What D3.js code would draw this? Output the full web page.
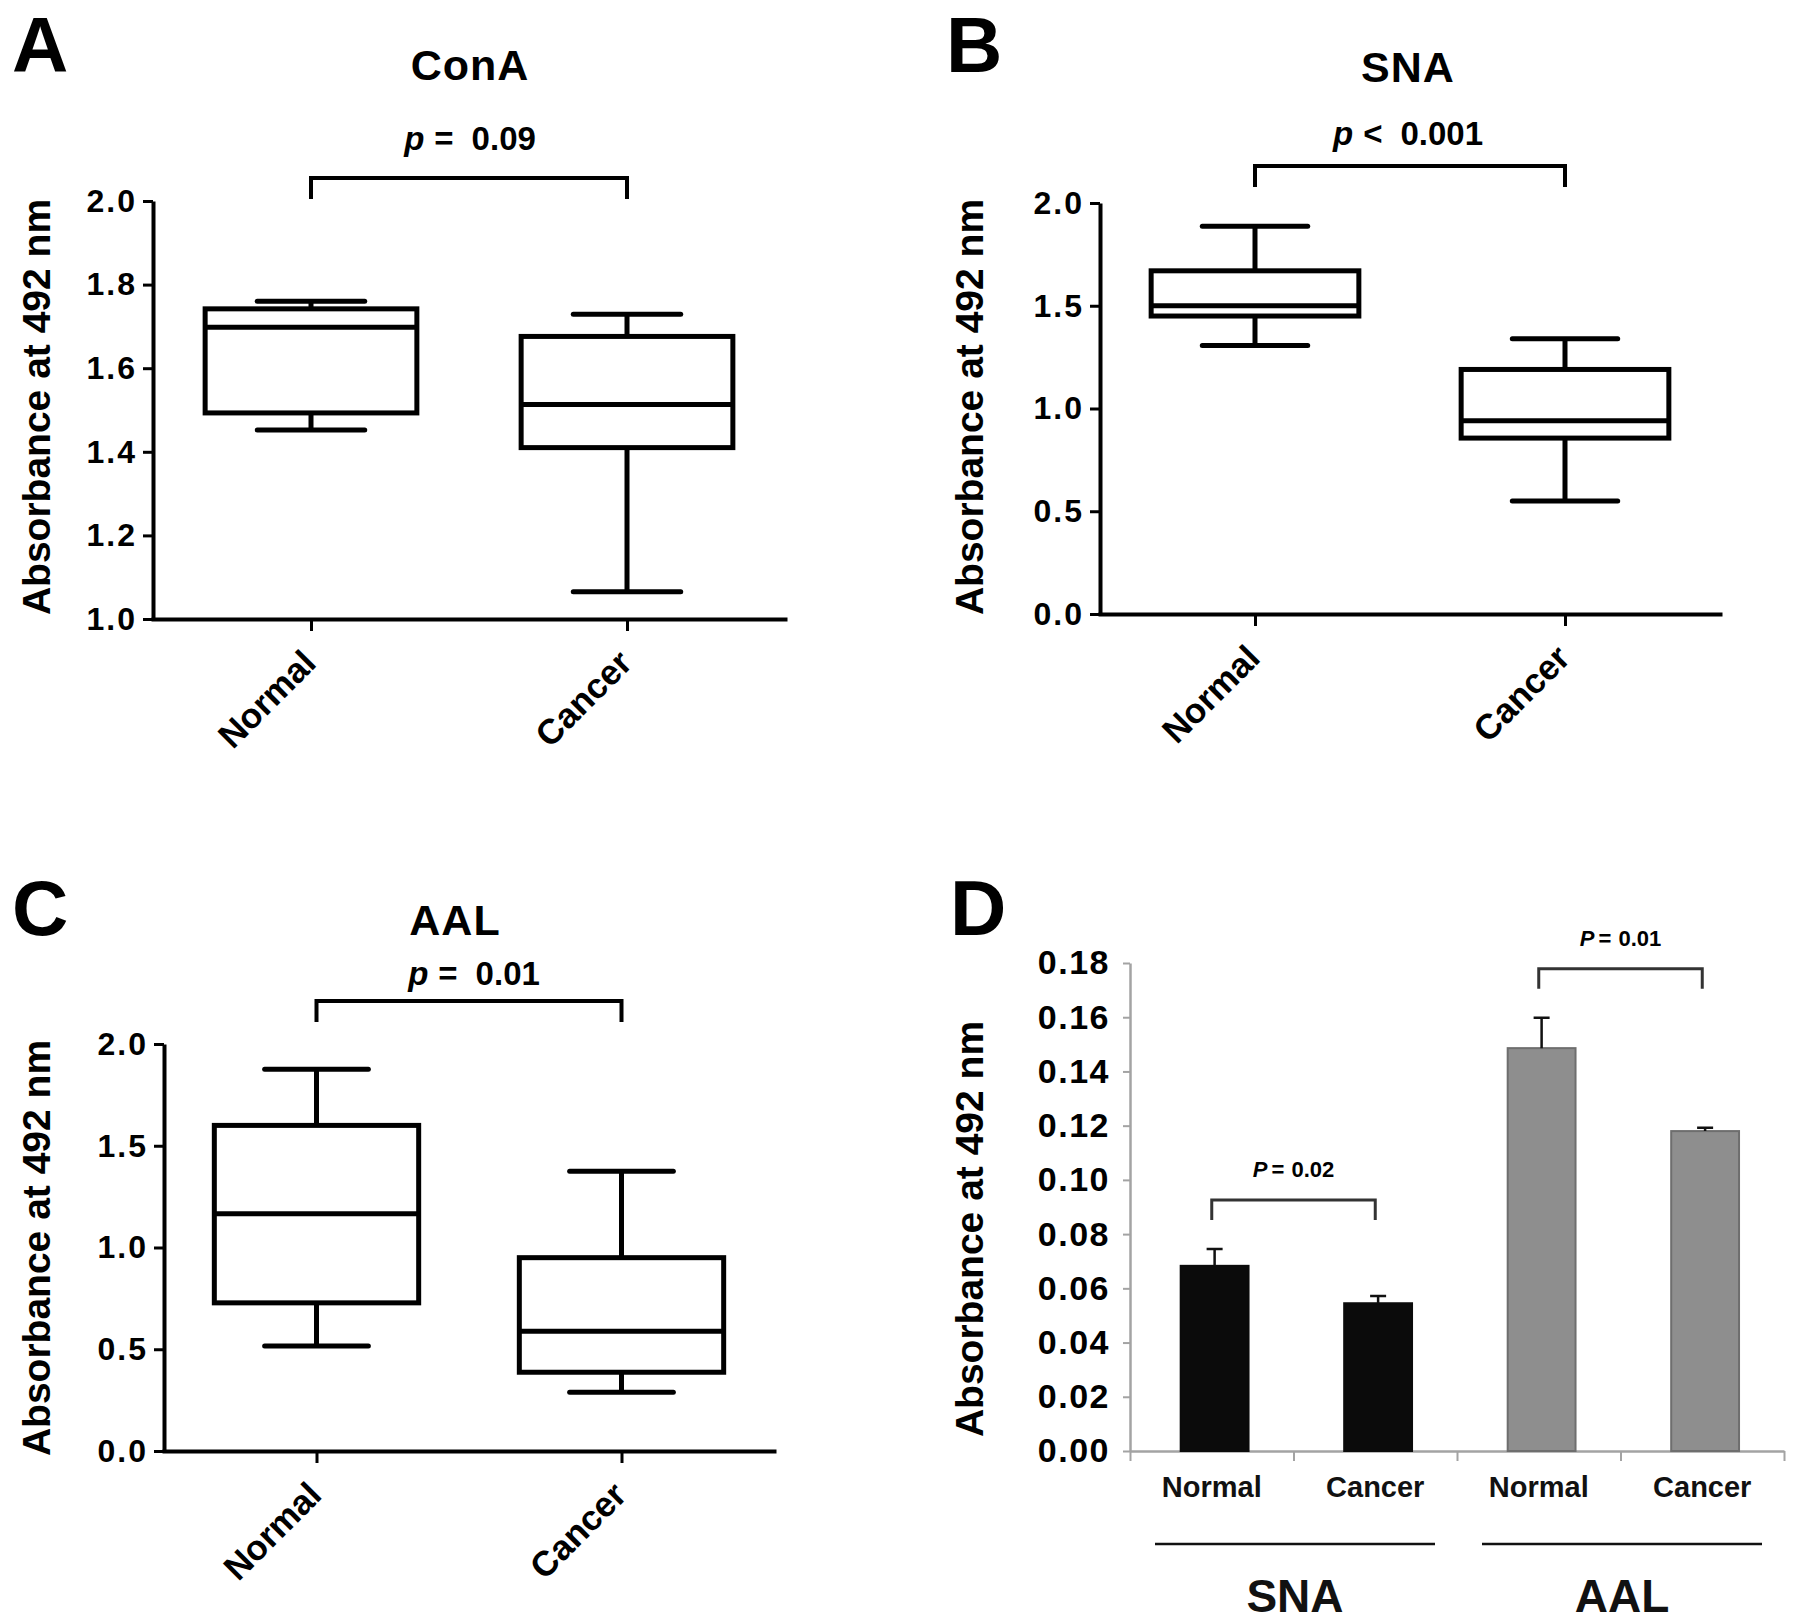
<!DOCTYPE html>
<html>
<head>
<meta charset="utf-8">
<script src="https://cdn.jsdelivr.net/npm/d3@7"></script>
<style>
body { margin: 0; background: #fff; }
text { font-family: "Liberation Sans", Arial, sans-serif; }
</style>
</head>
<body>
<div id="chart-area"></div>
<script>
// ---- data ----
var groups = ["Normal", "Cancer"];
// each row: min, q1, median, q3, max
var conaStats = [[1.452, 1.493, 1.698, 1.742, 1.760], [1.065, 1.410, 1.513, 1.676, 1.729]];
var snaStats  = [[1.307, 1.450, 1.500, 1.670, 1.887], [0.550, 0.856, 0.940, 1.190, 1.340]];
var aalStats  = [[0.516, 0.728, 1.166, 1.600, 1.876], [0.289, 0.387, 0.588, 0.950, 1.375]];
var conaTicks = [1.0, 1.2, 1.4, 1.6, 1.8, 2.0];
var lectinTicks = [0.0, 0.5, 1.0, 1.5, 2.0];

var barLectins = ["SNA", "AAL"];
var barLabels = ["Normal", "Cancer", "Normal", "Cancer"];
var barMeans  = [0.0683, 0.0545, 0.1486, 0.1180];
var barErrors = [0.0062, 0.0027, 0.0112, 0.0012];
var barTicks  = [0.00, 0.02, 0.04, 0.06, 0.08, 0.10, 0.12, 0.14, 0.16, 0.18];
var barPValues = ["0.02", "0.01"];

var width = 1795;
var height = 1624;

var svg = d3.select("#chart-area")
    .append("svg")
    .attr("width", width)
    .attr("height", height)
    .style("display", "block");

svg.append("rect").attr("width", width).attr("height", height).attr("fill", "#fff");

function panelLetter(letter, x, y) {
    svg.append("text")
        .attr("x", x).attr("y", y)
        .attr("font-size", "78px").attr("font-weight", "bold")
        .text(letter);
}

function yLabel(x, y) {
    svg.append("text")
        .attr("transform", "translate(" + x + "," + y + ") rotate(-90)")
        .attr("text-anchor", "middle")
        .attr("dominant-baseline", "central")
        .attr("font-size", "39px").attr("font-weight", "bold")
        .text("Absorbance at 492 nm");
}

function pLabel(letterP, sign, value, x, y, size, gap) {
    var t = svg.append("text")
        .attr("x", x).attr("y", y)
        .attr("text-anchor", "middle")
        .attr("font-size", size + "px").attr("font-weight", "bold");
    t.append("tspan").attr("font-style", "italic").text(letterP);
    t.append("tspan").attr("dx", gap).text(sign);
    t.append("tspan").attr("dx", gap * 1.8).text(value);
}

// ---- box and whisker panels (A, B, C) ----
var boxPanels = [
    {letter: "A", lx: 12, ly: 72, title: "ConA", tx: 470, ty: 80, sign: "=", pv: "0.09", px: 470, py: 150,
     stats: conaStats, ticks: conaTicks, domain: [1, 2], x0: 153, x1: 785, yTop: 201, yBottom: 619,
     bracketY: 178, ylx: 36, yly: 407},
    {letter: "B", lx: 946, ly: 72, title: "SNA", tx: 1408, ty: 82, sign: "<", pv: "0.001", px: 1408, py: 145,
     stats: snaStats, ticks: lectinTicks, domain: [0, 2], x0: 1100, x1: 1720, yTop: 203, yBottom: 614,
     bracketY: 166, ylx: 969, yly: 407},
    {letter: "C", lx: 12, ly: 935, title: "AAL", tx: 455, ty: 935, sign: "=", pv: "0.01", px: 474, py: 985,
     stats: aalStats, ticks: lectinTicks, domain: [0, 2], x0: 164, x1: 774, yTop: 1044, yBottom: 1451,
     bracketY: 1001, ylx: 36, yly: 1248}
];

boxPanels.forEach(function(o) {
    var yScale = d3.scaleLinear().domain(o.domain).range([o.yBottom, o.yTop]);
    var xScale = d3.scalePoint().domain(groups).range([o.x0, o.x1]).padding(0.5);
    var step = xScale.step();
    var boxHalf = step * 0.335;
    var capHalf = step * 0.17;

    panelLetter(o.letter, o.lx, o.ly);
    yLabel(o.ylx, o.yly);

    svg.append("text")
        .attr("x", o.tx).attr("y", o.ty)
        .attr("text-anchor", "middle")
        .attr("font-family", "'Noto Sans', 'Open Sans', sans-serif")
        .attr("font-size", "43px").attr("font-weight", "bold")
        .attr("letter-spacing", "1px")
        .text(o.title);

    pLabel("p", o.sign, o.pv, o.px, o.py, 33, 10);

    var g = svg.append("g");

    var yAxis = g.append("g")
        .attr("transform", "translate(" + o.x0 + ",0)")
        .call(d3.axisLeft(yScale).tickValues(o.ticks).tickFormat(d3.format(".1f"))
            .tickSize(10).tickSizeOuter(0).tickPadding(6));
    yAxis.selectAll("text").attr("font-size", "32px").attr("font-weight", "bold")
        .attr("letter-spacing", "2px").attr("fill", "#000").style("font-family", "'Liberation Sans', Arial");
    yAxis.selectAll("line").attr("stroke", "#000").attr("stroke-width", 3);
    yAxis.select(".domain").attr("stroke", "#000").attr("stroke-width", 4);

    var xAxis = g.append("g")
        .attr("transform", "translate(0," + o.yBottom + ")")
        .call(d3.axisBottom(xScale).tickSize(12).tickSizeOuter(0).tickFormat(""));
    xAxis.selectAll("line").attr("stroke", "#000").attr("stroke-width", 3);
    xAxis.select(".domain").attr("stroke", "#000").attr("stroke-width", 4)
        .attr("stroke-linecap", "square");

    g.selectAll(".xlab").data(groups).enter().append("text")
        .attr("class", "xlab")
        .attr("transform", function(d) {
            return "translate(" + (xScale(d) + 7) + "," + (o.yBottom + 46) + ") rotate(-45)";
        })
        .attr("text-anchor", "end")
        .attr("font-size", "35px").attr("font-weight", "bold")
        .text(function(d) { return d; });

    // significance bracket
    var bx1 = xScale(groups[0]), bx2 = xScale(groups[1]);
    g.append("path")
        .attr("d", "M" + bx1 + "," + (o.bracketY + 21) + "V" + o.bracketY + "H" + bx2 + "V" + (o.bracketY + 21))
        .attr("fill", "none").attr("stroke", "#000").attr("stroke-width", 4);

    var boxes = g.selectAll(".box").data(o.stats).enter().append("g").attr("class", "box");
    boxes.append("line")
        .attr("x1", function(d, i) { return xScale(groups[i]); })
        .attr("x2", function(d, i) { return xScale(groups[i]); })
        .attr("y1", function(d) { return yScale(d[0]); })
        .attr("y2", function(d) { return yScale(d[4]); })
        .attr("stroke", "#000").attr("stroke-width", 5);
    [0, 4].forEach(function(k) {
        boxes.append("line")
            .attr("x1", function(d, i) { return xScale(groups[i]) - capHalf; })
            .attr("x2", function(d, i) { return xScale(groups[i]) + capHalf; })
            .attr("y1", function(d) { return yScale(d[k]); })
            .attr("y2", function(d) { return yScale(d[k]); })
            .attr("stroke", "#000").attr("stroke-width", 5).attr("stroke-linecap", "round");
    });
    boxes.append("rect")
        .attr("x", function(d, i) { return xScale(groups[i]) - boxHalf; })
        .attr("width", boxHalf * 2)
        .attr("y", function(d) { return yScale(d[3]); })
        .attr("height", function(d) { return yScale(d[1]) - yScale(d[3]); })
        .attr("fill", "#fff").attr("stroke", "#000").attr("stroke-width", 5);
    boxes.append("line")
        .attr("x1", function(d, i) { return xScale(groups[i]) - boxHalf; })
        .attr("x2", function(d, i) { return xScale(groups[i]) + boxHalf; })
        .attr("y1", function(d) { return yScale(d[2]); })
        .attr("y2", function(d) { return yScale(d[2]); })
        .attr("stroke", "#000").attr("stroke-width", 5);
});

// ---- bar panel (D) ----
var dLeft = 1130, dRight = 1784, dTop = 963, dBottom = 1451;
var yBar = d3.scaleLinear().domain([0, 0.18]).range([dBottom, dTop]);
var xBar = d3.scaleBand().domain(d3.range(barMeans.length)).range([dLeft, dRight]);
var xEdge = d3.scaleLinear().domain([0, barMeans.length]).range([dLeft, dRight]);
var bw = xBar.bandwidth();

panelLetter("D", 950, 935);
yLabel(969, 1229);

var gd = svg.append("g");

var yAxisD = gd.append("g")
    .attr("transform", "translate(" + dLeft + ",0)")
    .call(d3.axisLeft(yBar).tickValues(barTicks).tickFormat(d3.format(".2f"))
        .tickSize(7).tickSizeOuter(0).tickPadding(13));
yAxisD.selectAll("text").attr("font-size", "34px").attr("font-weight", "bold")
    .attr("letter-spacing", "1.5px").attr("fill", "#000").style("font-family", "'Liberation Sans', Arial");
yAxisD.selectAll("line").attr("stroke", "#a3a3a3").attr("stroke-width", 2);
yAxisD.select(".domain").attr("stroke", "#a3a3a3").attr("stroke-width", 2.5);

var xAxisD = gd.append("g")
    .attr("transform", "translate(0," + dBottom + ")")
    .call(d3.axisBottom(xEdge).tickValues(d3.range(barMeans.length + 1))
        .tickSize(10).tickSizeOuter(0).tickFormat(""));
xAxisD.selectAll("line").attr("stroke", "#a3a3a3").attr("stroke-width", 2);
xAxisD.select(".domain").attr("stroke", "#a3a3a3").attr("stroke-width", 2.5);

function barX(i) { return xBar(i) + bw * 0.31; }
function barCenter(i) { return barX(i) + bw * 0.2075; }

gd.selectAll(".bar").data(barMeans).enter().append("rect")
    .attr("class", "bar")
    .attr("x", function(d, i) { return barX(i); })
    .attr("width", bw * 0.415)
    .attr("y", function(d) { return yBar(d); })
    .attr("height", function(d) { return dBottom - yBar(d); })
    .attr("fill", function(d, i) { return i < 2 ? "#0b0b0b" : "#8e8e8e"; })
    .attr("stroke", function(d, i) { return i < 2 ? "#0b0b0b" : "#6e6e6e"; })
    .attr("stroke-width", 2);

gd.selectAll(".err").data(barMeans).enter().append("path")
    .attr("class", "err")
    .attr("d", function(d, i) {
        var cx = barCenter(i), top = yBar(d + barErrors[i]);
        return "M" + cx + "," + yBar(d) + "V" + top + "M" + (cx - 8) + "," + top + "H" + (cx + 8);
    })
    .attr("fill", "none").attr("stroke", "#111").attr("stroke-width", 2.5);

gd.selectAll(".blab").data(barLabels).enter().append("text")
    .attr("class", "blab")
    .attr("x", function(d, i) { return xBar(i) + bw / 2; })
    .attr("y", 1497)
    .attr("text-anchor", "middle")
    .attr("font-family", "'Open Sans', sans-serif")
    .attr("font-size", "29px").attr("font-weight", 600)
    .attr("fill", "#111")
    .text(function(d) { return d; });

barLectins.forEach(function(lectin, k) {
    var a = 2 * k, b = 2 * k + 1;
    var lx1 = xBar(a) + 25, lx2 = xBar(b) + bw - 22;
    gd.append("line")
        .attr("x1", lx1).attr("x2", lx2).attr("y1", 1544).attr("y2", 1544)
        .attr("stroke", "#111").attr("stroke-width", 2.5);
    gd.append("text")
        .attr("x", (lx1 + lx2) / 2).attr("y", 1612)
        .attr("text-anchor", "middle")
        .attr("font-family", "'Open Sans', sans-serif")
        .attr("font-size", "46px").attr("font-weight", 600)
        .attr("fill", "#111")
        .text(lectin);

    // bracket above the pair
    var topY = yBar(Math.max(barMeans[a] + barErrors[a], barMeans[b] + barErrors[b])) - 49;
    var c1 = xBar(a) + bw / 2, c2 = xBar(b) + bw / 2;
    gd.append("path")
        .attr("d", "M" + c1 + "," + (topY + 20) + "V" + topY + "H" + c2 + "V" + (topY + 20))
        .attr("fill", "none").attr("stroke", "#333").attr("stroke-width", 3);
    pLabel("P", "=", barPValues[k], (c1 + c2) / 2, topY - 23, 22, 4);
});
</script>
</body>
</html>
